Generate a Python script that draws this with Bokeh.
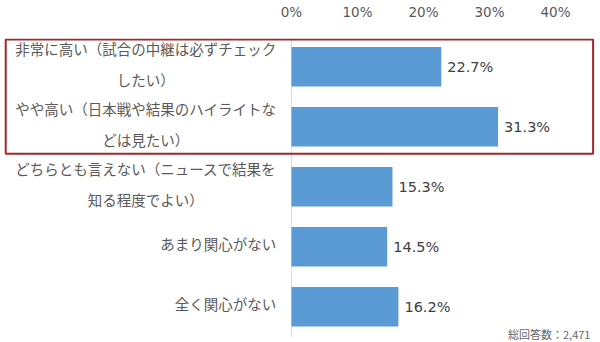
from bokeh.plotting import figure
from bokeh.models import Range1d, FixedTicker, ColumnDataSource, BoxAnnotation
from bokeh.core.properties import value
from bokeh.embed import file_html
from bokeh.resources import INLINE

categories = [
    "非常に高い（試合の中継は必ずチェック\nしたい）",
    "やや高い（日本戦や結果のハイライトな\nどは見たい）",
    "どちらとも言えない（ニュースで結果を\n知る程度でよい）",
    "あまり関心がない",
    "全く関心がない",
]
values = [22.7, 31.3, 15.3, 14.5, 16.2]
ticks = [0, 10, 20, 30, 40]
value_labels = [f"{v:.1f}%" for v in values]
note = "総回答数：2,471"

idx = list(range(len(categories)))
src = ColumnDataSource(dict(y=idx, v=values, lab=value_labels, cat=categories,
                            zero=[0] * len(idx), labx=[-2.3] * len(idx)))

p = figure(width=600, height=342, output_backend="svg", toolbar_location=None,
           x_axis_location="above", y_axis_location=None,
           x_range=Range1d(-44.09, 46.82), y_range=Range1d(4.596, -0.472),
           min_border_left=0, min_border_right=0, min_border_bottom=0, min_border_top=36)
p.outline_line_color = None
p.xgrid.visible = False
p.ygrid.visible = False
p.background_fill_color = "white"
p.border_fill_color = "white"

ax = p.xaxis[0]
ax.ticker = FixedTicker(ticks=ticks)
ax.major_label_overrides = {t: f"{t}%" for t in ticks}
ax.axis_line_color = None
ax.major_tick_line_color = None
ax.minor_tick_line_color = None
ax.major_label_text_font = "DejaVu Sans"
ax.major_label_text_font_size = "13.5px"
ax.major_label_text_color = "#595959"
ax.major_label_standoff = 13

# vertical axis line at 0
p.segment(x0=[0], y0=[-0.5], x1=[0], y1=[len(idx) - 0.5], line_color="#D9D9D9", line_width=1)

p.hbar(y="y", left="zero", right="v", height=0.66, source=src,
       fill_color="#5B9BD5", line_color=None)

p.text(x="v", y="y", text="lab", source=src, x_offset=6,
       text_font=value("DejaVu Sans"), text_font_size="14.5px", text_color="#404040",
       text_baseline="middle", text_align="left")

p.text(x="labx", y="y", text="cat", source=src, y_offset=-3,
       text_font=value("Noto Sans CJK JP"), text_font_size="14.5px", text_color="#595959",
       text_baseline="middle", text_align="center", anchor="center_right",
       text_line_height=1.5)

p.text(x=[45.3], y=[4.45], text=[note], text_font=value("Noto Sans CJK JP"),
       text_font_size="11px", text_color="#666666", text_align="right", text_baseline="middle")

box = BoxAnnotation(left=-43.3, right=45.7, top=-0.455, bottom=1.45,
                    fill_color=None, fill_alpha=0, line_color="#A0282A", line_alpha=1.0,
                    line_width=2)
p.add_layout(box)

open("out.html", "w").write(file_html(p, INLINE))
